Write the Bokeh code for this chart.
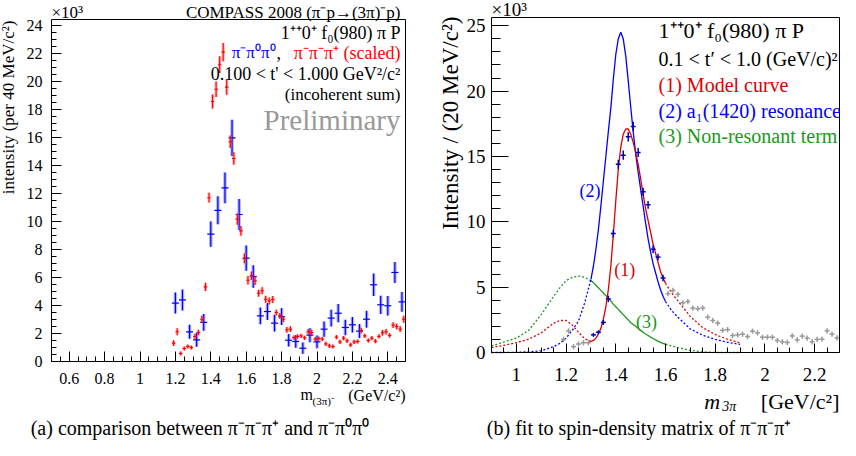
import numpy as np
from bokeh.plotting import figure
from bokeh.layouts import row
from bokeh.models import Range1d, FixedTicker, CustomJSTickFormatter, Label, LinearAxis
from bokeh.embed import file_html
from bokeh.resources import INLINE

FONT = "Liberation Serif"

# ---------------- panel (a): comparison ----------------
red_mass = np.round(np.arange(1.19, 2.495, 0.02), 2)
red_val = [1.31, 2.12, 0.57, 0.93, 1.07, 1.00, 1.79, 2.07, 3.02, 5.33,
           11.7, 18.57, 19.45, 21.2, 22.1, 19.6, 15.7, 14.5, 10.17, 9.33,
           7.36, 5.8, 6.12, 5.76, 4.88, 5.05, 4.45, 4.33, 4.43, 3.5,
           3.26, 3.02, 2.26, 2.31, 1.71, 1.79, 1.83, 1.69, 2.12, 2.07,
           1.6, 1.64, 1.6, 1.26, 1.12, 1.07, 1.74, 1.4, 1.67, 1.48,
           1.19, 1.4, 1.43, 2.21, 1.83, 1.5, 1.67, 1.45, 1.79, 2.05,
           2.12, 1.86, 2.6, 2.5, 2.31, 3.02]
red_err = [0.2, 0.25, 0.15, 0.15, 0.15, 0.15, 0.2, 0.2, 0.25, 0.3,
           0.35, 0.5, 0.55, 0.6, 0.65, 0.55, 0.45, 0.45, 0.4, 0.35,
           0.35, 0.3, 0.3, 0.3, 0.25, 0.25, 0.25, 0.25, 0.25, 0.2,
           0.2, 0.2, 0.2, 0.2, 0.15, 0.15, 0.15, 0.15, 0.2, 0.2,
           0.15, 0.15, 0.15, 0.15, 0.15, 0.15, 0.15, 0.15, 0.15, 0.15,
           0.15, 0.15, 0.15, 0.2, 0.15, 0.15, 0.15, 0.15, 0.15, 0.2,
           0.2, 0.15, 0.2, 0.2, 0.2, 0.25]
blue_mass = np.round(np.arange(1.20, 2.485, 0.04), 2)
blue_val = [4.17, 4.4, 2.12, 1.55, 2.79, 9.1, 10.8, 12.4, 15.97, 10.5,
            7.38, 6.07, 3.26, 3.57, 2.74, 3.21, 1.52, 1.43, 0.95, 1.88,
            1.4, 2.31, 3.1, 3.45, 2.43, 2.62, 2.17, 3.02, 5.48, 4.05,
            3.98, 6.36, 4.26]
blue_err = [0.75, 0.75, 0.5, 0.5, 0.6, 0.9, 1.0, 1.1, 1.3, 1.1,
            0.9, 0.8, 0.6, 0.6, 0.6, 0.6, 0.45, 0.45, 0.4, 0.5,
            0.45, 0.55, 0.6, 0.65, 0.55, 0.55, 0.5, 0.6, 0.8, 0.65,
            0.7, 0.75, 0.7]
a_xticks = [0.6, 0.8, 1.0, 1.2, 1.4, 1.6, 1.8, 2.0, 2.2, 2.4]
a_yticks = [0, 2, 4, 6, 8, 10, 12, 14, 16, 18, 20, 22, 24]

# ---------------- panel (b): fit ----------------
fit_mass = np.round(np.arange(1.31, 1.595, 0.02), 2)
fit_val = [1.35, 1.55, 2.3, 4.1, 9.1, 14.4, 15.1, 16.5, 17.3, 15.3,
           12.3, 11.3, 7.9, 7.3, 5.7]
fit_err = [0.15, 0.15, 0.2, 0.25, 0.3, 0.35, 0.35, 0.35, 0.35, 0.35,
           0.3, 0.3, 0.3, 0.25, 0.25]
out_mass = [1.19, 1.21, 1.23, 1.25, 1.27, 1.29,
            1.61, 1.63, 1.65, 1.67, 1.69, 1.71, 1.73, 1.75, 1.77, 1.79,
            1.81, 1.83, 1.85, 1.87, 1.89, 1.91, 1.93, 1.95, 1.97, 1.99,
            2.01, 2.03, 2.05, 2.07, 2.09, 2.11, 2.13, 2.15, 2.17, 2.19,
            2.21, 2.23, 2.25, 2.27, 2.29]
out_val = [1.0, 1.65, 0.45, 0.65, 0.75, 0.75,
           4.5, 4.75, 4.45, 3.8, 3.9, 3.4, 3.35, 3.4, 2.7, 2.45,
           2.25, 1.7, 1.75, 1.3, 1.35, 1.4, 1.22, 1.63, 1.5, 1.17,
           1.17, 1.17, 0.92, 0.82, 0.77, 1.27, 0.97, 1.25, 1.1, 0.82,
           1.0, 1.02, 1.66, 1.4, 1.12]
curve_mass = [0.90, 0.95, 1.00, 1.05, 1.10, 1.15, 1.175, 1.20, 1.225, 1.25, 1.275,
              1.30, 1.31, 1.32, 1.33, 1.34, 1.35, 1.36, 1.37, 1.38, 1.39,
              1.40, 1.41, 1.42, 1.43, 1.44, 1.45, 1.46, 1.47, 1.48, 1.49,
              1.50, 1.51, 1.52, 1.53, 1.54, 1.55, 1.56, 1.57, 1.58, 1.59,
              1.60, 1.625, 1.65, 1.70, 1.75, 1.80, 1.85, 1.90]
curve_model = [0.38, 0.55, 0.75, 1.02, 1.5, 2.25, 2.45, 2.45, 2.1, 1.55, 1.05,
               0.85, 0.92, 1.1, 1.4, 1.85, 2.55, 3.5, 4.8, 6.6, 9.0,
               11.6, 14.0, 15.7, 16.7, 17.1, 17.1, 16.7, 16.1, 15.3, 14.4,
               13.3, 12.1, 11.0, 10.1, 9.2, 8.3, 7.6, 6.9, 6.2, 5.7,
               5.3, 4.55, 3.95, 2.75, 1.9, 1.38, 1.0, 0.75]
curve_a1 = [0.0, 0.0, 0.02, 0.05, 0.13, 0.45, 0.7, 1.1, 1.7, 2.4, 3.8,
            5.6, 6.6, 7.9, 9.4, 11.2, 13.1, 15.0, 16.9, 18.7, 20.9,
            22.8, 24.0, 24.5, 24.0, 22.7, 20.8, 18.8, 16.9, 15.2, 13.8,
            12.5, 11.2, 9.9, 8.7, 7.7, 6.8, 6.1, 5.4, 4.8, 4.3,
            3.9, 3.2, 2.7, 1.8, 1.32, 1.0, 0.78, 0.62]
curve_nonres = [0.5, 0.8, 1.1, 1.7, 2.9, 4.3, 4.95, 5.5, 5.75, 5.85, 5.75,
                5.5, 5.35, 5.15, 4.95, 4.75, 4.55, 4.35, 4.15, 3.95, 3.7,
                3.5, 3.3, 3.1, 2.9, 2.7, 2.5, 2.3, 2.15, 2.0, 1.85,
                1.7, 1.55, 1.42, 1.3, 1.18, 1.07, 0.97, 0.87, 0.78, 0.7,
                0.62, 0.5, 0.38, 0.16, 0.05, 0.0, 0.0, 0.0]
fit_lo, fit_hi = 1.30, 1.60
b_xticks = [1.0, 1.2, 1.4, 1.6, 1.8, 2.0, 2.2]
b_yticks = [0, 5, 10, 15, 20, 25]

fmt = CustomJSTickFormatter(code="""
const r = Math.round(tick);
if (Math.abs(tick - r) < 1e-9) { return r.toString(); }
return tick.toFixed(1);
""")


def make_axes(p, xlo, xhi, ylo, yhi, xticks, xminor, yticks, yminor, size,
              xstand, ystand, xmaj, xmin_, ymaj, ymin_):
    """Library axes pinned to the edges of the plotting box."""
    common = dict(axis_line_color="black", axis_line_width=1,
                  major_tick_out=0, minor_tick_out=0,
                  major_tick_line_color="black", minor_tick_line_color="black",
                  major_label_text_font=FONT, major_label_text_font_size=size,
                  major_label_text_color="black", formatter=fmt)
    xb = LinearAxis(fixed_location=ylo, bounds=(xlo, xhi),
                    ticker=FixedTicker(ticks=xticks, minor_ticks=xminor),
                    major_tick_in=xmaj, minor_tick_in=xmin_,
                    major_label_standoff=xstand, **common)
    yl = LinearAxis(fixed_location=xlo, bounds=(ylo, yhi),
                    ticker=FixedTicker(ticks=yticks, minor_ticks=yminor),
                    major_tick_in=ymaj, minor_tick_in=ymin_,
                    major_label_standoff=ystand, **common)
    xt = LinearAxis(fixed_location=yhi, bounds=(xlo, xhi),
                    ticker=FixedTicker(ticks=[], minor_ticks=[]),
                    axis_line_color="black", major_tick_line_color=None,
                    minor_tick_line_color=None)
    yr = LinearAxis(fixed_location=xhi, bounds=(ylo, yhi),
                    ticker=FixedTicker(ticks=[], minor_ticks=[]),
                    axis_line_color="black", major_tick_line_color=None,
                    minor_tick_line_color=None)
    p.add_layout(xb, "below")
    p.add_layout(yl, "left")
    p.add_layout(xt, "above")
    p.add_layout(yr, "right")


def lab(p, x, y, text, size, color="black", align="left", baseline="middle",
        angle=0.0, style="normal"):
    p.add_layout(Label(x=x, y=y, text=text, text_font=FONT, text_font_size=size,
                       text_color=color, text_align=align, text_baseline=baseline,
                       angle=angle, text_font_style=style))


def base_fig(w, h, xr, yr):
    p = figure(output_backend="svg", toolbar_location=None, width=w, height=h,
               x_range=Range1d(*xr), y_range=Range1d(*yr),
               x_axis_type=None, y_axis_type=None, title=None, min_border=0)
    p.min_border_left = p.min_border_right = p.min_border_top = p.min_border_bottom = 0
    p.outline_line_color = None
    p.grid.visible = False
    return p


# ======== panel (a) ========  box: window x 59..413, y 27..369 ; figure at window (8, 8)
A_W, A_H = 410, 440
A_SX, A_SY = 177.0, 14.0
A_YMAX = 342 / A_SY
pa = base_fig(A_W, A_H,
              (0.5 - 51 / A_SX, 0.5 + (A_W - 51) / A_SX),
              (-(A_H - 361) / A_SY, 361 / A_SY))
make_axes(pa, 0.5, 2.5, 0.0, A_YMAX, a_xticks,
          list(np.round(np.arange(0.5, 2.501, 0.05), 3)), a_yticks,
          list(np.round(np.arange(0, A_YMAX, 0.5), 2)), "16px", 11, 9, 10, 5, 10, 5)


def ax_(px):
    return 0.5 + (px - 59.0) / A_SX


def ay_(py):
    return (369.0 - py) / A_SY


rm = np.array(red_mass); rv = np.array(red_val); re_ = np.array(red_err)
bm = np.array(blue_mass); bv = np.array(blue_val); be = np.array(blue_err)
pa.segment(bm, bv - be, bm, bv + be, line_color="#6a6aff", line_width=3.5, line_alpha=0.5)
pa.segment(bm, bv - be, bm, bv + be, line_color="#0000ff", line_width=1.2)
pa.segment(bm - 0.02, bv, bm + 0.02, bv, line_color="#0000ff", line_width=1.2)
pa.segment(rm, rv - re_, rm, rv + re_, line_color="#ff6060", line_width=3.0, line_alpha=0.5)
pa.segment(rm, rv - re_, rm, rv + re_, line_color="#ff0000", line_width=1.1)
pa.segment(rm - 0.01, rv, rm + 0.01, rv, line_color="#ff0000", line_width=1.1)

RX = ax_(408)
lab(pa, ax_(59), ay_(20), "×10³", "17px")
lab(pa, RX, ay_(20), "COMPASS 2008 (π⁻p→(3π)⁻p)", "17px", align="right")
lab(pa, RX, ay_(40), "1⁺⁺0⁺ f₀(980) π P", "18px", align="right")
lab(pa, RX, ay_(60), "π⁻π⁻π⁺ (scaled)", "18px", color="#ff0000", align="right")
lab(pa, ax_(284), ay_(60), ",", "18px")
lab(pa, ax_(283), ay_(60), "π⁻π⁰π⁰", "17px", color="#0000ff", align="right")
lab(pa, RX, ay_(81), "0.100 < t' < 1.000 GeV²/c²", "18px", align="right")
lab(pa, RX, ay_(102), "(incoherent sum)", "17px", align="right")
lab(pa, RX, ay_(127), "Preliminary", "29px", color="#999999", align="right")
lab(pa, ax_(16), ay_(28), "intensity (per 40 MeV/c²)", "17px", align="right", angle=np.pi / 2)
lab(pa, ax_(308), ay_(402), "m", "16px", baseline="alphabetic")
lab(pa, ax_(320), ay_(408), "(3π)⁻", "11px", baseline="alphabetic")
lab(pa, ax_(413), ay_(403), "(GeV/c²)", "16px", align="right", baseline="alphabetic")
lab(pa, ax_(210), ay_(435), "(a)  comparison between π⁻π⁻π⁺ and π⁻π⁰π⁰", "20px", align="center")

# ======== panel (b) ========  figure at window x 418; box window x 499..847, y 25..360
B_W, B_H = 430, 440
B_L, B_R = 81, 429
B_SX = (B_R - B_L) / 1.4
B_SY = 13.07
B_TOP, B_BOT = 17, 352
B_YMAX = (B_BOT - B_TOP) / B_SY
pb = base_fig(B_W, B_H,
              (0.9 - B_L / B_SX, 2.3 + (B_W - B_R) / B_SX),
              (-(B_H - B_BOT) / B_SY, B_BOT / B_SY))
make_axes(pb, 0.9, 2.3, 0.0, B_YMAX, b_xticks,
          list(np.round(np.arange(0.9, 2.301, 0.05), 3)), b_yticks,
          list(range(0, 26)), "19px", 15, 6, 9, 5, 17, 9)


def bx_(px):
    return 0.9 + (px - 503.0) / 250.0


def by_(py):
    return (360.0 - py) / B_SY


cm = np.array(curve_mass)
inner = (cm >= fit_lo - 1e-9) & (cm <= fit_hi + 1e-9)
left = cm <= fit_lo + 1e-9
right = cm >= fit_hi - 1e-9
curves = [(np.array(curve_nonres), "#1a9a1a"), (np.array(curve_a1), "#0000ff"),
          (np.array(curve_model), "#dd0000")]
for vals, col in curves:
    pb.line(cm[left], vals[left], line_color=col, line_width=1.3, line_dash="2 2")
    pb.line(cm[right], vals[right], line_color=col, line_width=1.3, line_dash="2 2")
    pb.line(cm[inner], vals[inner], line_color=col, line_width=1.3)

om = np.array(out_mass); ov = np.array(out_val)
pb.segment(om - 0.01, ov, om + 0.01, ov, line_color="#999999", line_width=1.5)
pb.segment(om, ov - 0.2, om, ov + 0.2, line_color="#999999", line_width=1.5)
fm = np.array(fit_mass); fv = np.array(fit_val); fe = np.array(fit_err)
pb.segment(fm - 0.01, fv, fm + 0.01, fv, line_color="#0000bb", line_width=1.5)
pb.segment(fm, fv - fe, fm, fv + fe, line_color="#0000bb", line_width=1.5)

BX = bx_(671)
lab(pb, bx_(503), by_(17), "×10³", "19px")
lab(pb, BX, by_(38), "1⁺⁺0⁺ f₀(980) π P", "22px")
lab(pb, BX, by_(66), "0.1 < t′ < 1.0 (GeV/c)²", "20px")
lab(pb, BX, by_(92), "(1) Model curve", "20px", color="#dd0000")
lab(pb, BX, by_(118), "(2) a₁(1420) resonance", "20px", color="#0000ff")
lab(pb, BX, by_(143), "(3) Non-resonant term", "20px", color="#1a9a1a")
lab(pb, bx_(602), by_(198), "(2)", "18px", color="#0000ff", align="center")
lab(pb, bx_(637), by_(277), "(1)", "18px", color="#dd0000", align="center")
lab(pb, bx_(659), by_(329), "(3)", "18px", color="#1a9a1a", align="center")
lab(pb, bx_(462), by_(24), "Intensity / (20 MeV/c²)", "23px", align="right", angle=np.pi / 2)
lab(pb, bx_(717), by_(409), "m", "22px", baseline="alphabetic", style="italic")
lab(pb, bx_(735), by_(414), "3π", "14px", baseline="alphabetic", style="italic")
lab(pb, 2.3, by_(409), "[GeV/c²]", "22px", align="right", baseline="alphabetic")
lab(pb, bx_(654), by_(435), "(b)  fit to spin-density matrix of π⁻π⁻π⁺", "20px", align="center")

layout = row(pa, pb)
open("out.html", "w").write(file_html(layout, INLINE))
